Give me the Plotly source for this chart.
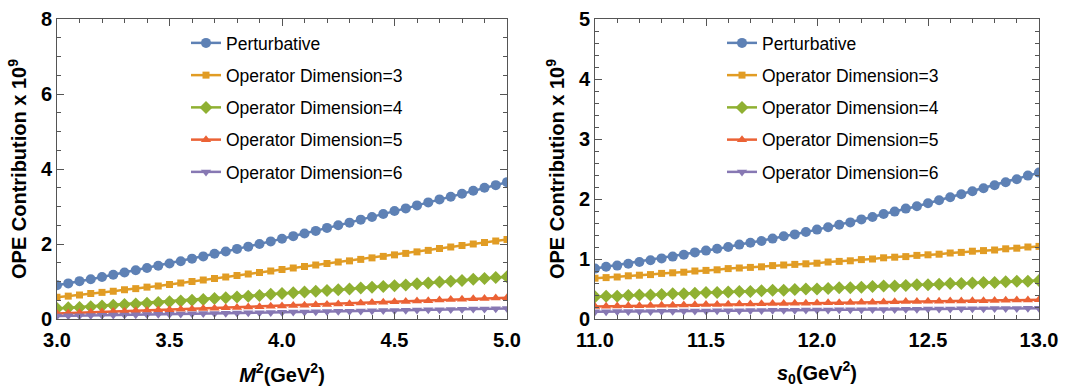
import plotly.graph_objects as go

# ---------------- data ----------------
m2 = [3.00, 3.05, 3.10, 3.15, 3.20, 3.25, 3.30, 3.35, 3.40, 3.45,
      3.50, 3.55, 3.60, 3.65, 3.70, 3.75, 3.80, 3.85, 3.90, 3.95,
      4.00, 4.05, 4.10, 4.15, 4.20, 4.25, 4.30, 4.35, 4.40, 4.45,
      4.50, 4.55, 4.60, 4.65, 4.70, 4.75, 4.80, 4.85, 4.90, 4.95, 5.00]

left_pert = [0.90, 0.95, 1.01, 1.06, 1.12, 1.18, 1.24, 1.30, 1.36, 1.42,
             1.48, 1.54, 1.61, 1.67, 1.74, 1.80, 1.87, 1.93, 2.00, 2.07,
             2.14, 2.21, 2.28, 2.35, 2.43, 2.50, 2.57, 2.65, 2.72, 2.80,
             2.88, 2.95, 3.03, 3.11, 3.19, 3.26, 3.34, 3.42, 3.50, 3.57, 3.65]
left_d3 = [0.58, 0.61, 0.64, 0.68, 0.71, 0.74, 0.78, 0.81, 0.85, 0.88,
           0.92, 0.96, 1.00, 1.04, 1.08, 1.12, 1.16, 1.20, 1.24, 1.28,
           1.32, 1.36, 1.40, 1.44, 1.48, 1.52, 1.55, 1.59, 1.63, 1.67,
           1.71, 1.75, 1.79, 1.83, 1.88, 1.92, 1.96, 2.00, 2.04, 2.08, 2.12]
left_d4 = [0.28, 0.30, 0.31, 0.33, 0.35, 0.37, 0.39, 0.40, 0.42, 0.44,
           0.46, 0.48, 0.50, 0.52, 0.55, 0.57, 0.59, 0.61, 0.63, 0.66,
           0.68, 0.70, 0.72, 0.74, 0.76, 0.78, 0.80, 0.83, 0.85, 0.87,
           0.89, 0.91, 0.94, 0.96, 0.99, 1.01, 1.03, 1.06, 1.08, 1.11, 1.13]
left_d5 = [0.15, 0.16, 0.17, 0.18, 0.19, 0.20, 0.21, 0.22, 0.23, 0.24,
           0.25, 0.26, 0.27, 0.28, 0.29, 0.30, 0.31, 0.32, 0.33, 0.34,
           0.35, 0.36, 0.37, 0.38, 0.39, 0.40, 0.41, 0.43, 0.44, 0.45,
           0.46, 0.47, 0.48, 0.49, 0.51, 0.52, 0.53, 0.54, 0.55, 0.56, 0.57]
left_d6 = [0.080, 0.085, 0.090, 0.094, 0.100, 0.105, 0.110, 0.114, 0.120, 0.125,
           0.130, 0.135, 0.140, 0.145, 0.150, 0.155, 0.160, 0.165, 0.170, 0.175,
           0.180, 0.185, 0.190, 0.195, 0.200, 0.205, 0.210, 0.215, 0.220, 0.225,
           0.230, 0.235, 0.240, 0.245, 0.250, 0.255, 0.260, 0.265, 0.270, 0.275, 0.280]

s0 = [11.00, 11.05, 11.10, 11.15, 11.20, 11.25, 11.30, 11.35, 11.40, 11.45,
      11.50, 11.55, 11.60, 11.65, 11.70, 11.75, 11.80, 11.85, 11.90, 11.95,
      12.00, 12.05, 12.10, 12.15, 12.20, 12.25, 12.30, 12.35, 12.40, 12.45,
      12.50, 12.55, 12.60, 12.65, 12.70, 12.75, 12.80, 12.85, 12.90, 12.95, 13.00]

right_pert = [0.84, 0.87, 0.89, 0.92, 0.95, 0.98, 1.01, 1.04, 1.07, 1.11,
              1.14, 1.17, 1.20, 1.24, 1.27, 1.30, 1.34, 1.38, 1.41, 1.45,
              1.49, 1.53, 1.57, 1.61, 1.66, 1.70, 1.75, 1.79, 1.84, 1.88,
              1.93, 1.98, 2.03, 2.08, 2.13, 2.18, 2.23, 2.28, 2.33, 2.39, 2.44]
right_d3 = [0.68, 0.69, 0.70, 0.72, 0.73, 0.74, 0.76, 0.77, 0.78, 0.80,
            0.81, 0.82, 0.84, 0.85, 0.86, 0.87, 0.89, 0.90, 0.91, 0.92,
            0.93, 0.95, 0.96, 0.97, 0.99, 1.00, 1.02, 1.03, 1.04, 1.06,
            1.07, 1.08, 1.10, 1.11, 1.13, 1.14, 1.15, 1.17, 1.18, 1.20, 1.21]
right_d4 = [0.37, 0.38, 0.38, 0.39, 0.40, 0.40, 0.41, 0.42, 0.42, 0.43,
            0.44, 0.44, 0.45, 0.46, 0.46, 0.47, 0.48, 0.48, 0.49, 0.50,
            0.50, 0.51, 0.52, 0.52, 0.53, 0.54, 0.55, 0.55, 0.56, 0.57,
            0.57, 0.58, 0.59, 0.59, 0.60, 0.61, 0.61, 0.62, 0.63, 0.63, 0.64]
right_d5 = [0.210, 0.213, 0.216, 0.219, 0.222, 0.225, 0.228, 0.231, 0.234, 0.237,
            0.240, 0.243, 0.246, 0.249, 0.252, 0.255, 0.258, 0.260, 0.262, 0.264,
            0.266, 0.269, 0.272, 0.275, 0.278, 0.281, 0.284, 0.287, 0.290, 0.293,
            0.295, 0.297, 0.299, 0.301, 0.303, 0.306, 0.309, 0.312, 0.315, 0.318, 0.320]
right_d6 = [0.120, 0.121, 0.123, 0.124, 0.126, 0.127, 0.129, 0.130, 0.132, 0.133,
            0.135, 0.136, 0.138, 0.139, 0.141, 0.142, 0.144, 0.145, 0.147, 0.148,
            0.150, 0.151, 0.153, 0.154, 0.156, 0.157, 0.159, 0.160, 0.162, 0.163,
            0.165, 0.166, 0.168, 0.169, 0.171, 0.172, 0.174, 0.175, 0.177, 0.178, 0.180]

names = ["Perturbative", "Operator Dimension=3", "Operator Dimension=4",
         "Operator Dimension=5", "Operator Dimension=6"]
colors = ["#5E81B5", "#E19C24", "#8FB032", "#EB6235", "#8778B3"]
symbols = ["circle", "square", "diamond", "triangle-up", "triangle-down"]
msizes = [10, 7, 10, 9, 9]

left_series = [left_pert, left_d3, left_d4, left_d5, left_d6]
right_series = [right_pert, right_d3, right_d4, right_d5, right_d6]

fig = go.Figure()
for i in range(5):
    fig.add_trace(go.Scatter(
        x=m2, y=left_series[i], name=names[i], mode="lines+markers",
        line=dict(color=colors[i], width=2.5),
        marker=dict(symbol=symbols[i], size=msizes[i], color=colors[i]),
        xaxis="x", yaxis="y", legend="legend", legendgroup="L%d" % i))
for i in range(5):
    fig.add_trace(go.Scatter(
        x=s0, y=right_series[i], name=names[i], mode="lines+markers",
        line=dict(color=colors[i], width=2.5),
        marker=dict(symbol=symbols[i], size=msizes[i], color=colors[i]),
        xaxis="x2", yaxis="y2", legend="legend2", legendgroup="R%d" % i))

W, H = 1078, 387
ml, mr, mt, mb = 57, 39, 19, 68
pw = W - ml - mr

tickfont = dict(family="Liberation Sans", size=20, color="black", weight="bold")
titlefont = dict(family="Liberation Sans", size=20, color="black")
framecol = "#555555"

def xax(dom, rng, dtick, title):
    return dict(domain=dom, range=rng, dtick=dtick, tick0=rng[0], tickformat=".1f",
                ticks="inside", ticklen=7, tickwidth=1, tickcolor=framecol,
                minor=dict(dtick=0.1, ticks="inside", ticklen=4, tickcolor=framecol),
                showline=True, linecolor=framecol, linewidth=1, mirror="allticks",
                showgrid=False, zeroline=False, tickfont=tickfont, ticklabelstandoff=3,
                title=dict(text=title, font=titlefont, standoff=17), automargin=False)

def yax(anchor, rng, dtick, mdtick):
    return dict(domain=[0, 1], range=rng, dtick=dtick, anchor=anchor,
                ticks="inside", ticklen=7, tickwidth=1, tickcolor=framecol,
                minor=dict(dtick=mdtick, ticks="inside", ticklen=4, tickcolor=framecol),
                showline=True, linecolor=framecol, linewidth=1, mirror="allticks",
                showgrid=False, zeroline=False, tickfont=tickfont,
                title=dict(text="<b>OPE Contribution x 10<sup>9</sup></b>", font=titlefont,
                           standoff=8), automargin=False)

xl_dom = [0, (507 - ml) / pw]
xr_dom = [(595 - ml) / pw, 1]

legfont = dict(family="Liberation Sans", size=17.5, color="black")
ly = 1 - (25 - mt) / (H - mt - mb)

fig.update_layout(
    width=W, height=H,
    margin=dict(l=ml, r=mr, t=mt, b=mb),
    paper_bgcolor="white", plot_bgcolor="white",
    font=dict(family="Liberation Sans"),
    xaxis=xax(xl_dom, [3.0, 5.0], 0.5, "<b><i>M</i><sup>2</sup>(GeV<sup>2</sup>)</b>"),
    yaxis=yax("x", [0, 8], 2, 0.5),
    xaxis2=xax(xr_dom, [11.0, 13.0], 0.5, "<b><i>s</i><sub>0</sub>(GeV<sup>2</sup>)</b>"),
    yaxis2=yax("x2", [0, 5], 1, 0.2),
    legend=dict(x=(186 - ml) / pw, y=ly, xanchor="left", yanchor="top",
                font=legfont, bgcolor="rgba(0,0,0,0)", tracegroupgap=6.5),
    legend2=dict(x=(722 - ml) / pw, y=ly, xanchor="left", yanchor="top",
                 font=legfont, bgcolor="rgba(0,0,0,0)", tracegroupgap=6.5),
)

fig.write_html("out.html")
